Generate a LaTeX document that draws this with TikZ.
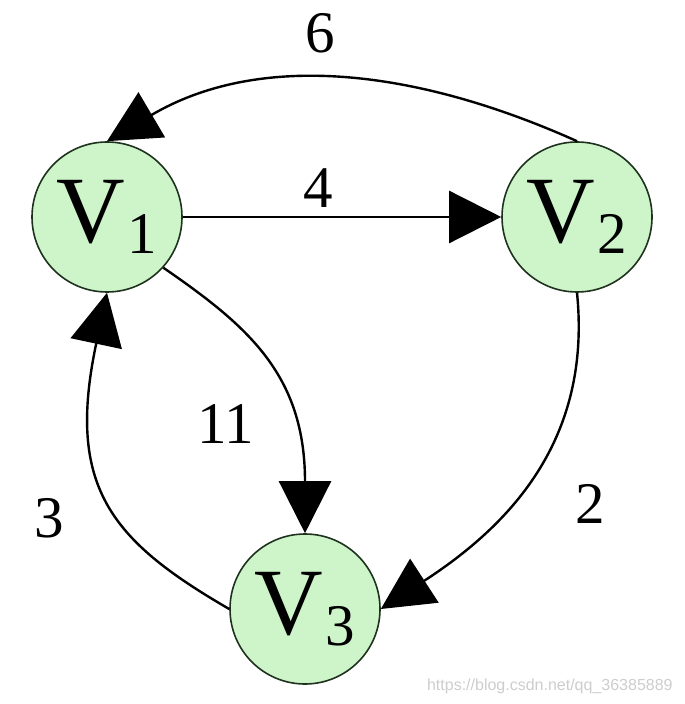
\documentclass[tikz,border=0pt]{standalone}
\usepackage{fontspec}
\setmainfont{Liberation Serif}
\newfontfamily\wmfont{Liberation Sans}
\usetikzlibrary{arrows.meta}
\definecolor{nodefill}{RGB}{206,244,202}
\definecolor{nodeline}{RGB}{30,50,30}
\definecolor{wmgray}{RGB}{205,205,205}
\newcommand{\vlab}[1]{\fontsize{47.5}{48}\selectfont V\kern1pt\raisebox{-5.5pt}{\fontsize{29.5}{30}\selectfont #1}}
\begin{document}
\begin{tikzpicture}[x=0.5pt,y=-0.5pt,
  vertex/.style={circle, draw=nodeline, line width=0.8pt, fill=nodefill, minimum size=75pt, inner sep=0pt},
  edge/.style={line width=1.2pt, -{Triangle[length=26pt,width=26pt]}},
  weight/.style={anchor=base, font=\fontsize{29.5}{30}\selectfont, inner sep=0pt}]
\useasboundingbox (0,0) rectangle (684,704);
\node[vertex] (v1) at (107,217) {\vlab{1}};
\node[vertex] (v2) at (577,217) {\vlab{2}};
\node[vertex] (v3) at (305,609) {\vlab{3}};
\draw[edge] (v1) -- (v2);
\draw[edge] (v2.north) .. controls (407,65) and (255,54) .. (v1.north);
\draw[edge] (v1.-42) .. controls (248,326) and (305,375) .. (v3.north);
\draw[edge] (v3.west) .. controls (110,540) and (66,486) .. (v1.south);
\draw[edge] (v2.south) .. controls (592,442) and (507,527) .. (v3.east);
\node[weight] (w6) at (320,53) {6};
\node[weight] (w4) at (318,208) {4};
\node[weight] (w11) at (226,443) {11};
\node[weight] (w3) at (49,537) {3};
\node[weight] (w2) at (590,523) {2};
\node[anchor=base east, font=\wmfont\fontsize{8}{9}\selectfont, text=wmgray, inner sep=0pt] (wm) at (673,690) {https://blog.csdn.net/qq\_36385889};
\end{tikzpicture}
\end{document}
